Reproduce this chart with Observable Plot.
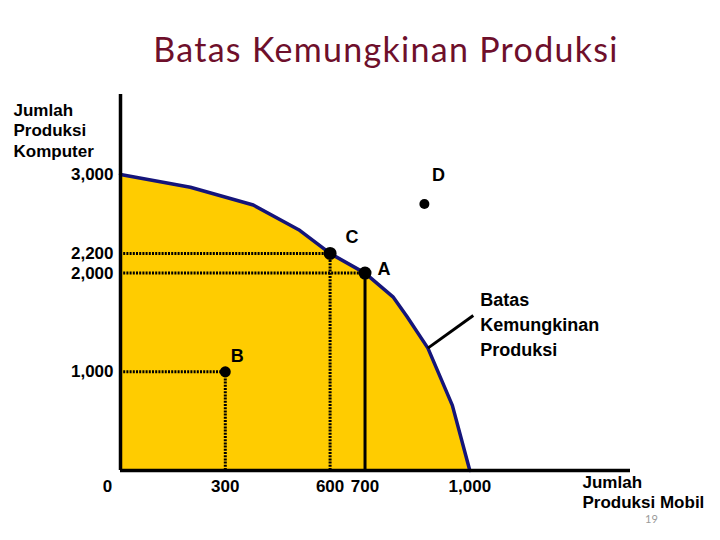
<!DOCTYPE html>
<html>
<head>
<meta charset="utf-8">
<script src="https://cdn.jsdelivr.net/npm/d3@7"></script>
<script src="https://cdn.jsdelivr.net/npm/@observablehq/plot@0.6"></script>
<style>
  html, body { margin: 0; padding: 0; background: #fff; }
  #page { position: relative; width: 720px; height: 540px; overflow: hidden; background: #fff; }
  #title { position: absolute; left: 386px; top: 32px; transform: translateX(-50%); white-space: nowrap;
           font-family: Lato, "Open Sans", sans-serif; font-size: 34px; line-height: 34px; letter-spacing: 1.3px; color: #6e0f2b; }
  #chart { position: absolute; left: 0; top: 88px; }
  #pageno { position: absolute; left: 645px; top: 512px; font-family: Lato, sans-serif; font-size: 11px; color: #9a9a9a; }
</style>
</head>
<body>
<div id="page">
  <div id="title">Batas Kemungkinan Produksi</div>
  <div id="chart"></div>
  <div id="pageno">19</div>
</div>
<script>
// Production possibilities frontier (Mobil on x, Komputer on y)
const curveMobil    = [0, 200, 380, 510, 600, 700, 780, 820, 880, 950, 1000];
const curveKomputer = [3000, 2870, 2690, 2440, 2200, 2000, 1760, 1560, 1240, 660, 0];

// Labelled points
const pointLabels   = ["A", "B", "C", "D"];
const pointMobil    = [700, 300, 600, 870];
const pointKomputer = [2000, 1000, 2200, 2700];

// Tick labels
const xTicks = [300, 600, 700, 1000];
const yTicks = [1000, 2000, 2200, 3000];

// Leader line from the frontier to its label
const leaderMobil    = [880, 1010];
const leaderKomputer = [1240, 1570];

const xMax = 1460, yMax = 3810;

const curve = curveMobil.map((x, i) => ({x, y: curveKomputer[i]}));
const points = pointLabels.map((label, i) => ({label, x: pointMobil[i], y: pointKomputer[i]}));
const P = Object.fromEntries(points.map(p => [p.label, p]));
const leader = [{x1: leaderMobil[0], y1: leaderKomputer[0], x2: leaderMobil[1], y2: leaderKomputer[1]}];

const fmt = d3.format(",");
const dotted = {stroke: "black", strokeWidth: 3, strokeDasharray: "2,1.2"};
const labelOffsets = {A: [19, -4], B: [12, -16], C: [22, -16], D: [14, -29]};
const radius = {A: 6.5, B: 5.5, C: 6.5, D: 5};

const guidesH = [P.C, P.A, P.B];
const guidesDotV = [P.C, P.B];
const guidesSolidV = [P.A];

const chart = Plot.plot({
  width: 720,
  height: 452,
  marginLeft: 120,
  marginRight: 90,
  marginTop: 6,
  marginBottom: 70,
  x: {domain: [0, xMax], axis: null},
  y: {domain: [0, yMax], axis: null},
  style: {fontFamily: "'Liberation Sans', Arial, sans-serif", fontSize: "17px", fontWeight: "bold", background: "white", overflow: "visible"},
  marks: [
    Plot.areaY(curve, {x: "x", y: "y", fill: "#FFCC00"}),
    Plot.ruleY(guidesH, {y: "y", x1: 0, x2: "x", ...dotted}),
    Plot.ruleX(guidesDotV, {x: "x", y1: 0, y2: "y", ...dotted}),
    Plot.ruleX(guidesSolidV, {x: "x", y1: 0, y2: "y", stroke: "black", strokeWidth: 3}),
    Plot.line(curve, {x: "x", y: "y", stroke: "#15157a", strokeWidth: 3.5, strokeLinejoin: "round"}),
    Plot.ruleX([0], {y1: 0, y2: yMax, stroke: "black", strokeWidth: 3.5}),
    Plot.ruleY([0], {x1: 0, x2: xMax, stroke: "black", strokeWidth: 3.5}),
    Plot.link(leader, {x1: "x1", y1: "y1", x2: "x2", y2: "y2", stroke: "black", strokeWidth: 3}),
    ...points.map(p => Plot.dot([p], {x: "x", y: "y", r: radius[p.label], fill: "black"})),
    ...points.map(p => Plot.text([p], {x: "x", y: "y", text: "label", dx: labelOffsets[p.label][0], dy: labelOffsets[p.label][1], fontSize: 18, fill: "black"})),
    // tick labels
    Plot.text(yTicks, {x: 0, y: d => d, text: d => fmt(d), textAnchor: "end", dx: -7, fill: "black"}),
    Plot.text(xTicks, {x: d => d, y: 0, text: d => fmt(d), dy: 16, fill: "black"}),
    Plot.text([0], {x: 0, y: 0, text: d => fmt(d), dx: -13, dy: 16, fill: "black"}),
    // frontier label
    Plot.text(leader, {x: "x2", y: "y2", text: () => "Batas\nKemungkinan\nProduksi", textAnchor: "start", lineAnchor: "middle", lineHeight: 1.39, dx: 7, dy: 7, fontSize: 18, fill: "black"}),
    // axis titles
    Plot.text(["Jumlah\nProduksi\nKomputer"], {frameAnchor: "top-left", text: d => d, textAnchor: "start", lineAnchor: "top", lineHeight: 1.2, dx: -107, dy: 7, fill: "black"}),
    Plot.text(["Jumlah\nProduksi Mobil"], {frameAnchor: "bottom-right", text: d => d, textAnchor: "start", lineAnchor: "top", lineHeight: 1.15, dx: -48, dy: 4, fill: "black"})
  ]
});
document.getElementById("chart").appendChild(chart);
</script>
</body>
</html>
